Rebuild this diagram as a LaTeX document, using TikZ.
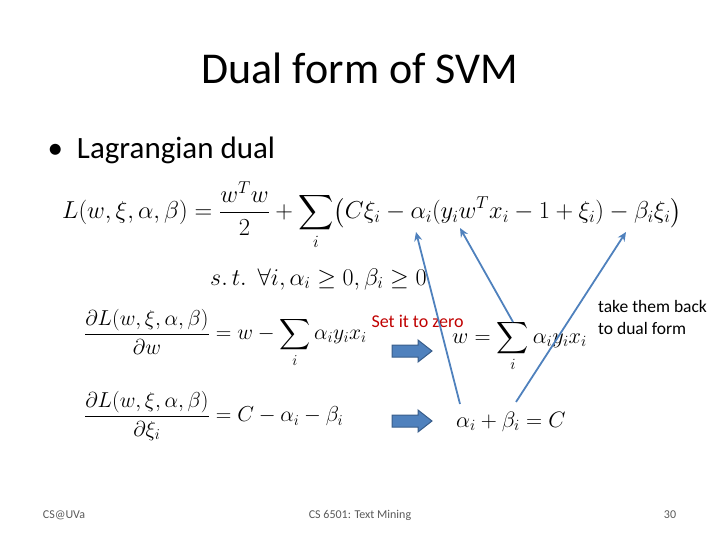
\RequirePackage{fix-cm}
\documentclass[tikz,border=0pt]{standalone}
\usepackage{amsmath,amssymb}
\usepackage{fontspec}
\setmainfont{Carlito}
\usetikzlibrary{arrows.meta}
\begin{document}
\begin{tikzpicture}[x=1pt,y=-1pt]
\tikzset{
  eq/.style={inner sep=0pt,font=\fontsize{22.3}{26}\selectfont},
  ln/.style={draw={rgb,255:red,79;green,129;blue,189},line width=1.8pt,-{Stealth[length=9pt,width=8pt]}},
  blk/.style={fill={rgb,255:red,79;green,129;blue,189},draw={rgb,255:red,56;green,93;blue,138},line width=1pt},
  foot/.style={font=\fontsize{12}{14}\selectfont,text=gray!70!black}
}
\useasboundingbox (0,0) rectangle (720,540);
\node (title) at (360,68) {\fontsize{44}{50}\selectfont Dual form of SVM};
\node[anchor=west] (bullet) at (44,150) {\fontsize{31}{36}\selectfont \textbullet\ \ Lagrangian dual};
\node[eq,anchor=west,font=\fontsize{24.5}{28}\selectfont] (L) at (62,216) {$\displaystyle L(w,\xi,\alpha,\beta)=\frac{w^Tw}{2}+\sum_i\bigl(C\xi_i-\alpha_i(y_iw^Tx_i-1+\xi_i)-\beta_i\xi_i\bigr)$};
\node[eq,anchor=west,font=\fontsize{24}{27}\selectfont] (st) at (210,279) {$s.\,t.\ \ \forall i,\alpha_i\ge 0,\beta_i\ge 0$};
\node[eq,anchor=west,font=\fontsize{21.6}{25}\selectfont] (d1) at (84,338) {$\displaystyle \frac{\partial L(w,\xi,\alpha,\beta)}{\partial w}=w-\sum_i\alpha_iy_ix_i$};
\node[eq,anchor=west,font=\fontsize{21.6}{25}\selectfont] (d2) at (84,416) {$\displaystyle \frac{\partial L(w,\xi,\alpha,\beta)}{\partial \xi_i}=C-\alpha_i-\beta_i$};
\node[anchor=west,text={rgb,255:red,192;green,0;blue,0},font=\fontsize{18}{21}\selectfont] (zero) at (368,321) {Set it to zero};
\node[eq,anchor=west] (w) at (452,346) {$\displaystyle w=\sum_i\alpha_iy_ix_i$};
\node[eq,anchor=west] (ab) at (456,422) {$\alpha_i+\beta_i=C$};
\node[anchor=north west,align=left,font=\fontsize{17.5}{22}\selectfont,inner sep=0pt] (take) at (598,300) {take them back\\to dual form};
\draw[blk] (392,345)--(418,345)--(418,340)--(432,351)--(418,362)--(418,357)--(392,357)--cycle;
\draw[blk] (392,415)--(418,415)--(418,410)--(432,421)--(418,432)--(418,427)--(392,427)--cycle;
\coordinate (a1s) at (460,404); \coordinate (a1e) at (416,232);
\coordinate (a2s) at (513,322); \coordinate (a2e) at (460,228);
\coordinate (a3s) at (516,402); \coordinate (a3e) at (626,232);
\draw[ln] (a1s)--(a1e);
\draw[ln] (a2s)--(a2e);
\draw[ln] (a3s)--(a3e);
\node[foot] (f1) at (64,515) {CS@UVa};
\node[foot] (f2) at (360,515) {CS 6501: Text Mining};
\node[foot] (f3) at (670,515) {30};
\end{tikzpicture}
\end{document}
